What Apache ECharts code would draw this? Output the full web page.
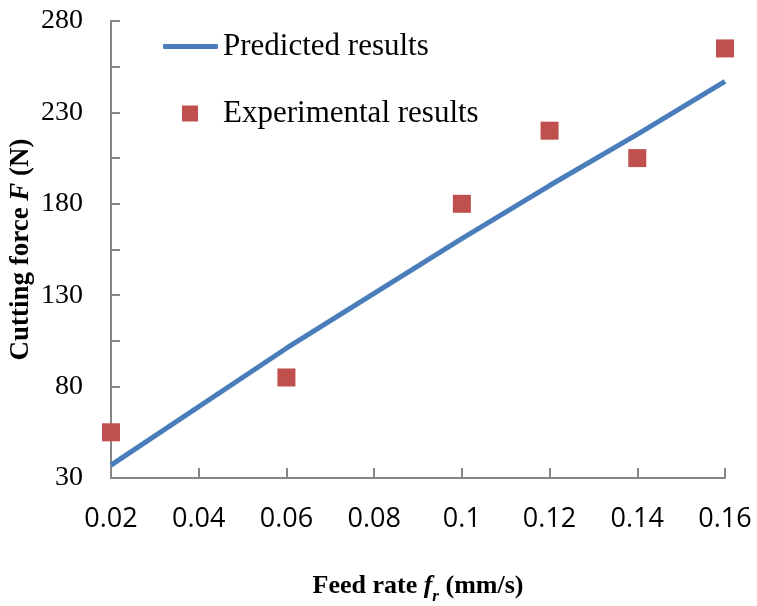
<!DOCTYPE html>
<html>
<head>
<meta charset="utf-8">
<script src="https://cdn.jsdelivr.net/npm/echarts@6/dist/echarts.min.js"></script>
<style>
  html, body { margin: 0; padding: 0; background: #fff; }
  #chart { width: 757px; height: 606px; }
</style>
</head>
<body>
<div id="chart"></div>
<script>
// Feed rate values (mm/s)
const feedRates = [0.02, 0.06, 0.1, 0.12, 0.14, 0.16];
// Model prediction of cutting force (N)
const predictedForce = [37, 101, 161, 190, 218, 247];
// Measured cutting force (N)
const experimentalForce = [55, 85, 180, 220, 205, 265];
// Axis tick values
const xTicks = [0.02, 0.04, 0.06, 0.08, 0.1, 0.12, 0.14, 0.16];
const yLabels = [30, 80, 130, 180, 230, 280];
const yTicks = [30, 55, 80, 105, 130, 155, 180, 205, 230, 255, 280];

const pairs = (xs, ys) => xs.map((x, i) => [x, ys[i]]);

const axisGrey = '#868686';
const serif = '"Liberation Serif", "Times New Roman", serif';

const chart = echarts.init(document.getElementById('chart'), null, { renderer: 'canvas' });
chart.setOption({
  animation: false,
  backgroundColor: '#ffffff',
  grid: { left: 111, right: 32, top: 21, bottom: 128, containLabel: false, outerBoundsMode: 'none' },
  legend: [
    {
      data: ['Predicted results'],
      left: 158, top: 26,
      icon: 'roundRect',
      itemWidth: 55, itemHeight: 5,
      itemGap: 0,
      textStyle: { fontFamily: serif, fontSize: 31, color: '#000' }
    },
    {
      data: ['Experimental results'],
      left: 177, top: 93,
      icon: 'rect',
      itemWidth: 16, itemHeight: 16,
      textStyle: { fontFamily: serif, fontSize: 31, color: '#000', padding: [0, 0, 0, 20] }
    }
  ],
  xAxis: {
    type: 'value',
    min: 0.02, max: 0.16, interval: 0.02,
    name: '{b|Feed rate }{i|f}{s|r}{b| (mm/s)}',
    nameLocation: 'middle',
    nameGap: 95,
    nameMoveOverlap: false,
    nameTextStyle: {
      rich: {
        b: { fontFamily: serif, fontWeight: 'bold', fontSize: 26, color: '#000', verticalAlign: 'bottom' },
        i: { fontFamily: serif, fontWeight: 'bold', fontStyle: 'italic', fontSize: 26, color: '#000', verticalAlign: 'bottom' },
        s: { fontFamily: serif, fontWeight: 'bold', fontStyle: 'italic', fontSize: 17, color: '#000', verticalAlign: 'bottom', padding: [0, 0, -6, 0] }
      }
    },
    axisLine: { show: true, lineStyle: { color: axisGrey, width: 2 } },
    axisTick: { show: true, inside: true, length: 10, lineStyle: { color: axisGrey, width: 2 }, customValues: xTicks },
    axisLabel: {
      customValues: xTicks,
      margin: 28,
      fontFamily: '"Open Sans", sans-serif',
      fontSize: 27,
      color: '#000',
      formatter: v => String(parseFloat(v.toFixed(2)))
    },
    splitLine: { show: false }
  },
  yAxis: {
    type: 'value',
    min: 30, max: 280,
    name: '{b|Cutting force }{i|F}{b| (N)}',
    nameLocation: 'middle',
    nameRotate: 90,
    nameGap: 76,
    nameMoveOverlap: false,
    nameTextStyle: {
      rich: {
        b: { fontFamily: serif, fontWeight: 'bold', fontSize: 27, color: '#000' },
        i: { fontFamily: serif, fontWeight: 'bold', fontStyle: 'italic', fontSize: 27, color: '#000' }
      }
    },
    axisLine: { show: true, lineStyle: { color: axisGrey, width: 2 } },
    axisTick: { show: true, inside: true, length: 9, lineStyle: { color: axisGrey, width: 2 }, customValues: yTicks },
    axisLabel: {
      customValues: yLabels,
      margin: 28,
      fontFamily: serif,
      fontSize: 28,
      color: '#000'
    },
    splitLine: { show: false }
  },
  series: [
    {
      name: 'Predicted results',
      type: 'line',
      data: pairs(feedRates, predictedForce),
      symbol: 'none',
      lineStyle: { color: '#4A7EBB', width: 5 },
      itemStyle: { color: '#4A7EBB' },
      z: 2
    },
    {
      name: 'Experimental results',
      type: 'scatter',
      data: pairs(feedRates, experimentalForce),
      symbol: 'rect',
      symbolSize: 18,
      itemStyle: { color: '#C0504D', opacity: 1 },
      z: 3
    }
  ]
});
</script>
</body>
</html>
